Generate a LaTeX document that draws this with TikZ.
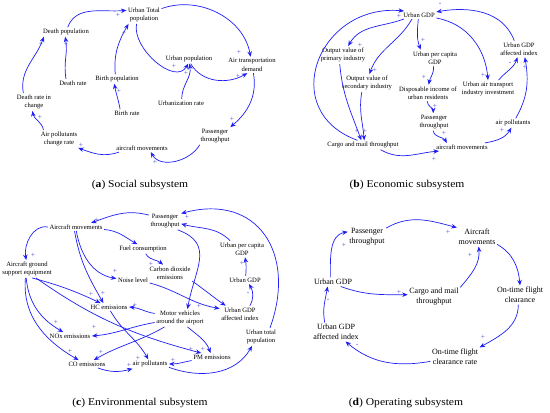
\documentclass[tikz,border=0pt]{standalone}
\usepackage{fontspec}
\setmainfont{Liberation Serif}
\newfontfamily\capfont[FakeStretch=1.1]{Liberation Serif}
\usepackage{tikz}
\usetikzlibrary{arrows.meta}
\definecolor{linkblue}{RGB}{30,30,245}
\definecolor{signblue}{RGB}{80,80,200}

\begin{document}
\begin{tikzpicture}[x=1pt,y=1pt,
    var/.style={font=\fontsize{6.6}{8.5}\selectfont, align=center, inner sep=1.5pt},
    bigvar/.style={var, font=\fontsize{8}{10}\selectfont},
    link/.style={draw=linkblue, line width=0.7pt, -{Stealth[length=5.5pt,width=4.5pt]}},
    sign/.style={font=\fontsize{7.5}{7.5}\selectfont, text=signblue, inner sep=0pt},
    captext/.style={font=\capfont\fontsize{10.5}{12}\selectfont}]
    \useasboundingbox (0,0) rectangle (550,413);

    % (a) sottosistema sociale
    \node[var] (utp) at (144,398) {Urban Total\\population};
    \node[var] (dpop) at (66,381) {Death population};
    \node[var] (drate) at (73,330) {Death rate};
    \node[var] (bpop) at (117,334) {Birth population};
    \node[var] (brate) at (127,300) {Birth rate};
    \node[var] (upop) at (189,354) {Urban population};
    \node[var] (atd) at (252,348) {Air transportation\\demand};
    \node[var] (urate) at (181,310) {Urbanization rate};
    \node[var] (drc) at (34,311) {Death rate in\\change};
    \node[var] (apcr) at (59,274) {Air pollutants\\change rate};
    \node[var] (acma) at (142,265) {aircraft movements};
    \node[var] (pta) at (215,277) {Passenger\\throughput};

    \draw[link] (dpop.70) to[out=70,in=185] (utp.165);
    \draw[link] (drate.150) to[out=100,in=-80] (dpop.-100);
    \draw[link] (drc.140) to[out=100,in=-110] (dpop.-168);
    \draw[link] (apcr.150) to[out=100,in=-80] (drc.-100);
    \draw[link] (acma.190) to[out=200,in=-20] (apcr.-25);
    \draw[link] (pta.-150) to[out=-120,in=-60] (acma.-25);
    \draw[link] (atd.-80) to[out=-80,in=40] (pta.30);
    \draw[link] (utp.20) to[out=20,in=100] (atd.100);
    \draw[link] (utp.-130) to[out=-100,in=-120] (upop.-100);
    \draw[link] (bpop.110) to[out=95,in=-120] (utp.-150);
    \draw[link] (brate.150) to[out=100,in=-80] (bpop.-120);
    \draw[link] (urate.80) to[out=90,in=-80] (upop.-85);
    \draw[link] (upop.-70) to[out=-60,in=-150] (atd.-120);

    \node[sign] (sa1) at (118,398) {+};
    \node[sign] (sa2) at (66,369) {+};
    \node[sign] (sa3) at (41,369) {+};
    \node[sign] (sa4) at (40,296) {+};
    \node[sign] (sa5) at (81,268) {+};
    \node[sign] (sa6) at (155,251) {+};
    \node[sign] (sa7) at (232,294) {+};
    \node[sign] (sa8) at (239,361) {+};
    \node[sign] (sa9) at (174,347) {+};
    \node[sign] (sa10) at (124,380) {+};
    \node[sign] (sa11) at (119,322) {+};
    \node[sign] (sa12) at (186,340) {+};
    \node[sign] (sa13) at (238,337) {+};

    % (b) sottosistema economico
    \node[var] (gdp) at (419,398) {Urban GDP};
    \node[var] (opi) at (343,358) {Output value of\\primary industry};
    \node[var] (osi) at (367,330) {Output value of\\secondary industry};
    \node[var] (upc) at (435,355) {Urban per capita\\GDP};
    \node[var] (dinc) at (428,320) {Disposable income of\\urban residents};
    \node[var] (ptb) at (434,291) {Passenger\\throughput};
    \node[var] (acmb) at (462,266) {aircraft movements};
    \node[var] (cmt) at (363,268) {Cargo and mail throughput};
    \node[var] (apb) at (513,290) {air pollutants};
    \node[var] (uai) at (488,324) {Urban air transport\\industry investment};
    \node[var] (gai) at (519,364) {Urban GDP\\affected index};

    \draw[link] (gdp.-165) to[out=-160,in=60] (opi.60);
    \draw[link] (gdp.-150) to[out=-120,in=70] (osi.75);
    \draw[link] (gdp.-100) to[out=-95,in=110] (upc.150);
    \draw[link] (gdp.-10) to[out=-10,in=95] (uai.north);
    \draw[link] (cmt.140) to[out=160,in=175,looseness=1.6] (gdp.165);
    \draw[link] (opi.-110) to[out=-85,in=110] (cmt.110);
    \draw[link] (osi.-120) to[out=-100,in=95] (cmt.75);
    \draw[link] (upc.-100) to[out=-85,in=80] (dinc.85);
    \draw[link] (dinc.-95) to[out=-90,in=90] (ptb.95);
    \draw[link] (ptb.-95) to[out=-80,in=120] (acmb.165);
    \draw[link] (cmt.-15) to[out=-30,in=185] (acmb.190);
    \draw[link] (acmb.10) to[out=10,in=-120] (apb.-110);
    \draw[link] (apb.60) to[out=60,in=-80] (gai.-55);
    \draw[link] (uai.40) to[out=50,in=-110] (gai.-100);
    \draw[link] (gai.120) to[out=110,in=10] (gdp.10);

    \node[sign] (sb1) at (360,368) {+};
    \node[sign] (sb2) at (375,343) {+};
    \node[sign] (sb3) at (423,373) {+};
    \node[sign] (sb4) at (483,338) {+};
    \node[sign] (sb5) at (399,397) {+};
    \node[sign] (sb6) at (357,282) {+};
    \node[sign] (sb7) at (365,282) {+};
    \node[sign] (sb8) at (424,336) {+};
    \node[sign] (sb9) at (435,307) {+};
    \node[sign] (sb10) at (444,280) {+};
    \node[sign] (sb11) at (434,254) {+};
    \node[sign] (sb12) at (502,283) {+};
    \node[sign] (sb13) at (525,346) {+};
    \node[sign] (sb14) at (510,350) {-};
    \node[sign] (sb15) at (440,409) {-};

    % (c) sottosistema ambientale
    \node[var] (ptc) at (165,192) {Passenger\\throughput};
    \node[var] (amc) at (76,186) {Aircraft movements};
    \node[var] (fuel) at (143,164) {Fuel consumption};
    \node[var] (co2) at (170,140) {Carbon dioxide\\emissions};
    \node[var] (noise) at (133,133) {Noise level};
    \node[var] (upcc) at (242,164) {Urban per capita\\GDP};
    \node[var] (gdpc) at (245,133) {Urban GDP};
    \node[var] (gaic) at (240,99) {Urban GDP\\affected index};
    \node[var] (agse) at (27,144) {Aircraft ground\\support equipment};
    \node[var] (hc) at (109,106) {HC emissions};
    \node[var] (mv) at (180,95) {Motor vehicles\\around the airport};
    \node[var] (nox) at (70,77) {NOx emissions};
    \node[var] (utpc) at (261,76) {Urban total\\population};
    \node[var] (pm) at (212,56) {PM emissions};
    \node[var] (co) at (87,49) {CO emissions};
    \node[var] (apc) at (150,49) {air pollutants};

    \draw[link] (ptc.160) to[out=165,in=20] (amc.15);
    \draw[link] (amc.west) to[out=170,in=100] (agse.95);
    \draw[link] (amc.-5) to[out=-5,in=150] (fuel.140);
    \draw[link] (amc.-85) to[out=-80,in=170] (noise.175);
    \draw[link] (amc.-110) to[out=-80,in=120] (hc.145);
    \draw[link] (agse.-60) to[out=-15,in=155] (hc.155);
    \draw[link] (fuel.-60) to[out=-60,in=140] (co2.130);
    \draw[link] (co2.-20) to[out=-35,in=145] (gaic.150);
    \draw[link] (noise.-10) to[out=-15,in=170] (gaic.165);
    \draw[link] (ptc.-35) to[out=-20,in=80,looseness=1.3] (mv.50);
    \draw[link] (upcc.145) to[out=135,in=-15] (ptc.-10);
    \draw[link] (gdpc.80) to[out=85,in=-80] (upcc.-70);
    \draw[link] (gaic.40) to[out=60,in=-60] (gdpc.-45);
    \draw[link] (mv.170) to[out=170,in=-5] (hc.east);
    \draw[link] (mv.190) to[out=190,in=5] (nox.east);
    \draw[link] (mv.-150) to[out=-150,in=30] (co.30);
    \draw[link] (mv.-50) to[out=-40,in=110] (pm.110);
    \draw[link] (agse.-95) to[out=-85,in=150] (nox.150);
    \draw[link] (agse.-100) to[out=-95,in=150] (co.155);
    \draw[link] (agse.-45) to[out=-35,in=165] (pm.160);
    \draw[link] (hc.-70) to[out=-60,in=120] (apc.110);
    \draw[link] (pm.-170) to[out=-170,in=0] (apc.east);
    \draw[link] (co.-20) to[out=-20,in=195] (apc.195);
    \draw[link] (apc.-10) to[out=-20,in=-120] (utpc.-135);
    \draw[link] (utpc.45) to[out=70,in=15,looseness=1.4] (ptc.25);

    \node[sign] (sc1) at (97,193) {+};
    \node[sign] (sc2) at (33,158) {+};
    \node[sign] (sc3) at (115,142) {+};
    \node[sign] (sc4) at (103,120) {+};
    \node[sign] (sc5) at (91,119) {+};
    \node[sign] (sc6) at (151,149) {+};
    \node[sign] (sc7) at (199,107) {+};
    \node[sign] (sc8) at (185,187) {+};
    \node[sign] (sc9) at (187,196) {+};
    \node[sign] (sc10) at (242,150) {+};
    \node[sign] (sc11) at (248,120) {-};
    \node[sign] (sc12) at (135,108) {+};
    \node[sign] (sc13) at (94,86) {+};
    \node[sign] (sc14) at (101,61) {+};
    \node[sign] (sc15) at (203,64) {+};
    \node[sign] (sc16) at (56,91) {+};
    \node[sign] (sc17) at (70,62) {+};
    \node[sign] (sc18) at (191,64) {+};
    \node[sign] (sc19) at (138,55) {+};
    \node[sign] (sc20) at (173,53) {+};
    \node[sign] (sc21) at (129,48) {+};

    % (d) sottosistema operativo
    \node[bigvar] (ptd) at (367,176) {Passenger\\throughput};
    \node[bigvar] (amd) at (477,176) {Aircraft\\movements};
    \node[bigvar] (gdpd) at (333,131) {Urban GDP};
    \node[bigvar] (cmd) at (434,116) {Cargo and mail\\throughput};
    \node[bigvar] (otc) at (520,118) {On-time flight\\clearance};
    \node[bigvar] (gaid) at (336,81) {Urban GDP\\affected index};
    \node[bigvar] (otr) at (455,56) {On-time flight\\clearance rate};

    \draw[link] (gdpd.120) to[out=90,in=190] (ptd.165);
    \draw[link] (ptd.25) to[out=30,in=165] (amd.155);
    \draw[link] (gdpd.-30) to[out=-20,in=180] (cmd.175);
    \draw[link] (cmd.20) to[out=50,in=-85] (amd.-80);
    \draw[link] (amd.-20) to[out=-30,in=95] (otc.north);
    \draw[link] (otc.-100) to[out=-90,in=30] (otr.north east);
    \draw[link] (otr.-170) to[out=190,in=-40] (gaid.-45);
    \draw[link] (gaid.140) to[out=100,in=-100] (gdpd.-140);

    \node[sign] (sd1) at (344,168) {+};
    \node[sign] (sd2) at (448,181) {+};
    \node[sign] (sd3) at (399,121) {+};
    \node[sign] (sd4) at (470,158) {+};
    \node[sign] (sd5) at (483,76) {+};
    \node[sign] (sd6) at (357,68) {-};
    \node[sign] (sd7) at (328,113) {-};

    % didascalie
    \node[captext] (capa) at (140,228) {(\textbf{a}) Social subsystem};
    \node[captext] (capb) at (407,228) {(\textbf{b}) Economic subsystem};
    \node[captext] (capc) at (140,10) {(\textbf{c}) Environmental subsystem};
    \node[captext] (capd) at (406,10) {(\textbf{d}) Operating subsystem};
\end{tikzpicture}
\end{document}
